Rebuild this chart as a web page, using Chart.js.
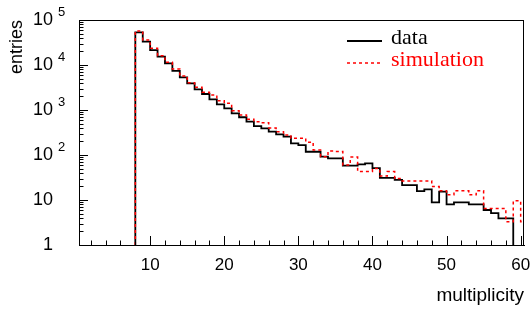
<!DOCTYPE html>
<html>
<head>
<meta charset="utf-8">
<script src="https://cdn.jsdelivr.net/npm/chart.js@4.4.1/dist/chart.umd.min.js"></script>
<style>
  html, body { margin: 0; padding: 0; background: #fff; }
  #caixa { position: relative; width: 531px; height: 309px; }
</style>
</head>
<body>
<div id="caixa"><canvas id="grafico"></canvas></div>
<script>
// bins of width 1, first bin starts at multiplicity 8
const firstBin = 8;

// data: bins 8..58
const dataCounts = [
  53300, 33000, 21500, 15300, 10900, 7400, 5300, 3900, 2880, 2270,
  1730, 1340, 1090, 845, 690, 550, 440, 390, 330, 288,
  255, 182, 165, 118, 118, 92, 84, 84, 58, 58,
  62, 65, 51, 31, 31, 28, 21.5, 21.5, 15.8, 17.2,
  8.9, 15.3, 8.0, 8.9, 8.9, 8.0, 8.0, 6.0, 5.1, 3.9,
  3.9
];

// simulation: bins 8..60
const simCounts = [
  57000, 35900, 23500, 16100, 11500, 8150, 5700, 4040, 3190, 2470,
  2150, 1610, 1410, 965, 774, 621, 550, 522, 398, 330,
  278, 235, 235, 192, 129, 92, 122, 120, 60, 90,
  43, 43, 50, 34, 43, 30, 26.5, 26.5, 26.5, 26.5,
  20, 16, 13, 16, 16, 13, 16, 6.5, 6.5, 6.5,
  3.3, 9.6, 3.3
];

const xLabelTicks = [10, 20, 30, 40, 50, 60];
const yDecades = [1, 10, 100, 1000, 10000, 100000];
const yTickBase = ["1", "10", "10", "10", "10", "10"];
const yTickExp = ["", "", "2", "3", "4", "5"];

const legendNames = ["data", "simulation"];
const legendColors = ["#000000", "#ff0000"];

const xMin = 0.4, xMax = 60.45;
const yMin = 1, yMax = 100000;

Chart.defaults.font.family = "'Liberation Sans', Arial, sans-serif";
Chart.defaults.color = "#000";

function pontosHisto(counts) {
  const pts = [{ x: firstBin, y: yMin }];
  counts.forEach((c, i) => pts.push({ x: firstBin + i, y: c }));
  pts.push({ x: firstBin + counts.length, y: yMin });
  return pts;
}

// ROOT-like frame: ticks inside, superscript labels, legend box
const estiloRoot = {
  id: "estiloRoot",
  afterDraw(chart) {
    const { ctx, chartArea: a, scales: { x, y } } = chart;
    ctx.save();
    ctx.strokeStyle = "#000";
    ctx.lineWidth = 1;
    ctx.setLineDash([]);
    ctx.beginPath();
    for (let v = 2; v <= xMax; v += 2) {
      const px = Math.round(x.getPixelForValue(v)) + 0.5;
      const len = v % 10 === 0 ? 9 : 4.5;
      ctx.moveTo(px, a.bottom);
      ctx.lineTo(px, a.bottom - len);
    }
    yDecades.forEach(d => {
      for (let m = 1; m < 10; m++) {
        const v = d * m;
        if (v > yMax) break;
        const py = Math.round(y.getPixelForValue(v)) + 0.5;
        ctx.moveTo(a.left, py);
        ctx.lineTo(a.left + (m === 1 ? 9 : 4.5), py);
      }
    });
    ctx.stroke();
    ctx.strokeRect(a.left + 0.5, a.top + 0.5, a.right - a.left - 1, a.bottom - a.top);

    // y tick labels with exponent
    ctx.fillStyle = "#000";
    ctx.textBaseline = "middle";
    yDecades.forEach((d, i) => {
      const py = y.getPixelForValue(d);
      ctx.font = "18px 'Liberation Sans', Arial, sans-serif";
      ctx.textAlign = "right";
      ctx.fillText(yTickBase[i], 53, py);
      if (yTickExp[i]) {
        ctx.font = "13px 'Liberation Sans', Arial, sans-serif";
        ctx.textAlign = "left";
        ctx.fillText(yTickExp[i], 58, py - 8);
      }
    });

    // legend
    const linhas = [41, 63];
    linhas.forEach((ly, i) => {
      ctx.strokeStyle = legendColors[i];
      ctx.lineWidth = i === 0 ? 1.8 : 1.5;
      ctx.setLineDash(i === 0 ? [] : [3, 3]);
      ctx.beginPath();
      ctx.moveTo(347, ly);
      ctx.lineTo(382, ly);
      ctx.stroke();
      ctx.fillStyle = legendColors[i];
      ctx.font = "22px 'Liberation Serif', 'Times New Roman', serif";
      ctx.textAlign = "left";
      ctx.textBaseline = "alphabetic";
      ctx.fillText(legendNames[i], 391, ly + 3);
    });
    ctx.restore();
  }
};

new Chart(document.getElementById("grafico"), {
  type: "line",
  data: {
    datasets: [
      {
        label: legendNames[0],
        data: pontosHisto(dataCounts),
        borderColor: legendColors[0],
        borderWidth: 1.8,
        stepped: true,
        pointRadius: 0,
        fill: false,
        order: 2
      },
      {
        label: legendNames[1],
        data: pontosHisto(simCounts),
        borderColor: legendColors[1],
        borderWidth: 1.5,
        borderDash: [3, 3],
        stepped: true,
        pointRadius: 0,
        fill: false,
        order: 1
      }
    ]
  },
  options: {
    responsive: true,
    maintainAspectRatio: false,
    animation: false,
    events: [],
    layout: { padding: { top: 20, right: 7, left: 0, bottom: 0 } },
    plugins: {
      legend: { display: false },
      tooltip: { enabled: false }
    },
    scales: {
      x: {
        type: "linear",
        min: xMin,
        max: xMax,
        afterBuildTicks: s => { s.ticks = xLabelTicks.map(v => ({ value: v })); },
        afterFit: s => { s.height = 64; s.paddingLeft = 0; s.paddingRight = 0; },
        ticks: { font: { size: 17 }, padding: 10, maxRotation: 0, autoSkip: false },
        grid: { display: false, drawTicks: false },
        border: { display: true, color: "#000" },
        title: {
          display: true, text: "multiplicity", align: "end",
          font: { size: 19 }, padding: { top: 0, bottom: 2 }
        }
      },
      y: {
        type: "logarithmic",
        min: yMin,
        max: yMax,
        afterFit: s => { s.width = 79; },
        ticks: { display: false },
        grid: { display: false, drawTicks: false },
        border: { display: true, color: "#000" },
        title: {
          display: true, text: "entries", align: "end",
          font: { size: 18 }, padding: { top: 6, bottom: 0 }
        }
      }
    }
  },
  plugins: [estiloRoot]
});
</script>
</body>
</html>
